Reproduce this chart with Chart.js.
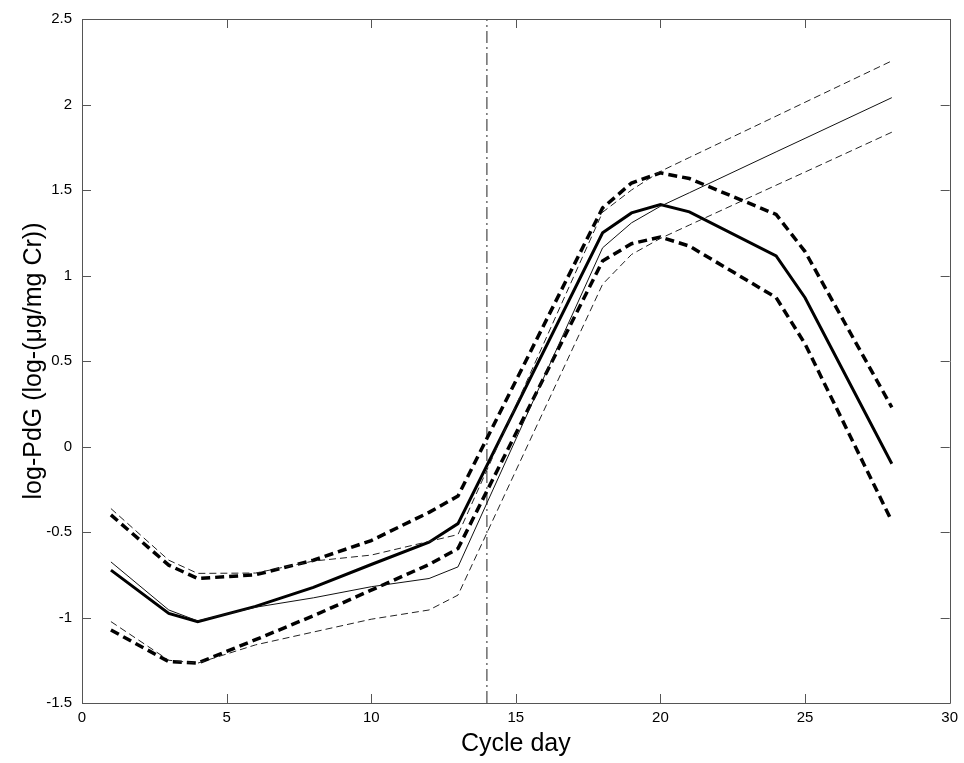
<!DOCTYPE html>
<html>
<head>
<meta charset="utf-8">
<script src="https://cdn.jsdelivr.net/npm/chart.js@4/dist/chart.umd.min.js"></script>
<style>
  html, body { margin: 0; padding: 0; background: #fff; }
  #wrap { width: 964px; height: 763px; position: relative; }
</style>
</head>
<body>
<div id="wrap"><canvas id="myChart"></canvas></div>
<script>
// cycle days where the curves change direction
let days = [1, 3, 4, 6, 8, 10, 12, 13, 18, 19, 20, 21, 24, 25, 28];

// thick lines
let meanCurve  = [-0.723, -0.976, -1.024, -0.935, -0.824, -0.69, -0.56, -0.451, 1.25, 1.366, 1.415, 1.372, 1.114, 0.87, -0.101];
let upperCurve = [-0.40, -0.694, -0.772, -0.75, -0.665, -0.55, -0.385, -0.29, 1.395, 1.541, 1.60, 1.567, 1.357, 1.14, 0.229];
let lowerCurve = [-1.073, -1.258, -1.267, -1.13, -0.99, -0.84, -0.69, -0.597, 1.085, 1.186, 1.225, 1.172, 0.871, 0.60, -0.437];

// thin lines
let meanFit  = [-0.675, -0.956, -1.02, -0.94, -0.885, -0.82, -0.772, -0.704, 1.162, 1.308, 1.405, 1.484, 1.723, 1.802, 2.04];
let upperFit = [-0.363, -0.665, -0.742, -0.74, -0.67, -0.635, -0.555, -0.515, 1.37, 1.50, 1.609, 1.69, 1.932, 2.013, 2.255];
let lowerFit = [-1.024, -1.25, -1.267, -1.16, -1.085, -1.01, -0.956, -0.869, 0.949, 1.123, 1.217, 1.295, 1.528, 1.605, 1.838];

// vertical marker (ovulation day)
let markerDay = 14;

// axes
let xTicks = [0, 5, 10, 15, 20, 25, 30];
let yTicks = [-1.5, -1, -0.5, 0, 0.5, 1, 1.5, 2, 2.5];

function toPoints(values) {
    return days.map(function (d, k) { return { x: d, y: values[k] }; });
}

function lineSet(values, width, dash, color) {
    return {
        data: toPoints(values),
        borderColor: color,
        borderWidth: width,
        borderDash: dash,
        pointRadius: 0,
        tension: 0,
        fill: false
    };
}

let data = {
    datasets: [
        lineSet(upperFit, 1, [7, 4], '#222'),
        lineSet(lowerFit, 1, [7, 4], '#222'),
        lineSet(meanFit, 1, [], '#111'),
        lineSet(upperCurve, 3.5, [9, 5], '#000'),
        lineSet(lowerCurve, 3.5, [9, 5], '#000'),
        lineSet(meanCurve, 3, [], '#000'),
        {
            data: [{ x: markerDay, y: yTicks[0] }, { x: markerDay, y: yTicks[yTicks.length - 1] }],
            borderColor: '#222',
            borderWidth: 1,
            borderDash: [12, 4, 2, 4],
            pointRadius: 0,
            fill: false
        }
    ]
};

// draws the box and the inward ticks on all four sides
const boxTicks = {
    id: 'boxTicks',
    afterDraw(chart) {
        const ctx = chart.ctx;
        const a = chart.chartArea;
        const x = chart.scales.x;
        const y = chart.scales.y;
        const len = 9;
        ctx.save();
        ctx.strokeStyle = '#555';
        ctx.lineWidth = 1;
        ctx.beginPath();
        ctx.rect(Math.round(a.left) + 0.5, Math.round(a.top) + 0.5,
            Math.round(a.right - a.left), Math.round(a.bottom - a.top));
        x.ticks.forEach(function (t) {
            const px = Math.round(x.getPixelForValue(t.value)) + 0.5;
            ctx.moveTo(px, a.bottom); ctx.lineTo(px, a.bottom - len);
            ctx.moveTo(px, a.top); ctx.lineTo(px, a.top + len);
        });
        y.ticks.forEach(function (t) {
            const py = Math.round(y.getPixelForValue(t.value)) + 0.5;
            ctx.moveTo(a.left, py); ctx.lineTo(a.left + len, py);
            ctx.moveTo(a.right, py); ctx.lineTo(a.right - len, py);
        });
        ctx.stroke();
        ctx.restore();
    }
};

Chart.defaults.font.family = "'Liberation Sans', Arial, sans-serif";
Chart.defaults.color = '#000';

let config = {
    type: 'line',
    data: data,
    options: {
        responsive: true,
        maintainAspectRatio: false,
        animation: false,
        layout: { padding: { left: 0, right: 12, top: 17, bottom: 0 } },
        plugins: {
            legend: { display: false },
            tooltip: { enabled: false }
        },
        scales: {
            x: {
                type: 'linear',
                min: 0,
                max: 30,
                afterBuildTicks: function (s) { s.ticks = xTicks.map(function (v) { return { value: v }; }); },
                afterFit: function (s) { s.height = 60; },
                grid: { display: false, drawTicks: false },
                border: { display: false },
                ticks: {
                    padding: 6,
                    maxRotation: 0,
                    font: { size: 15 },
                    callback: function (v) { return String(v); }
                },
                title: {
                    display: true,
                    text: 'Cycle day',
                    font: { size: 25 },
                    padding: { top: 0, bottom: 4 }
                }
            },
            y: {
                type: 'linear',
                min: -1.5,
                max: 2.5,
                afterBuildTicks: function (s) { s.ticks = yTicks.map(function (v) { return { value: v }; }); },
                afterFit: function (s) { s.width = 82; },
                grid: { display: false, drawTicks: false },
                border: { display: false },
                ticks: {
                    padding: 10,
                    font: { size: 15 },
                    callback: function (v) { return String(v); }
                },
                title: {
                    display: true,
                    text: 'log-PdG (log-(μg/mg Cr))',
                    font: { size: 25 },
                    padding: { top: 19, bottom: 0 }
                }
            }
        }
    },
    plugins: [boxTicks]
};

var myChart = new Chart(document.getElementById('myChart'), config);
</script>
</body>
</html>
